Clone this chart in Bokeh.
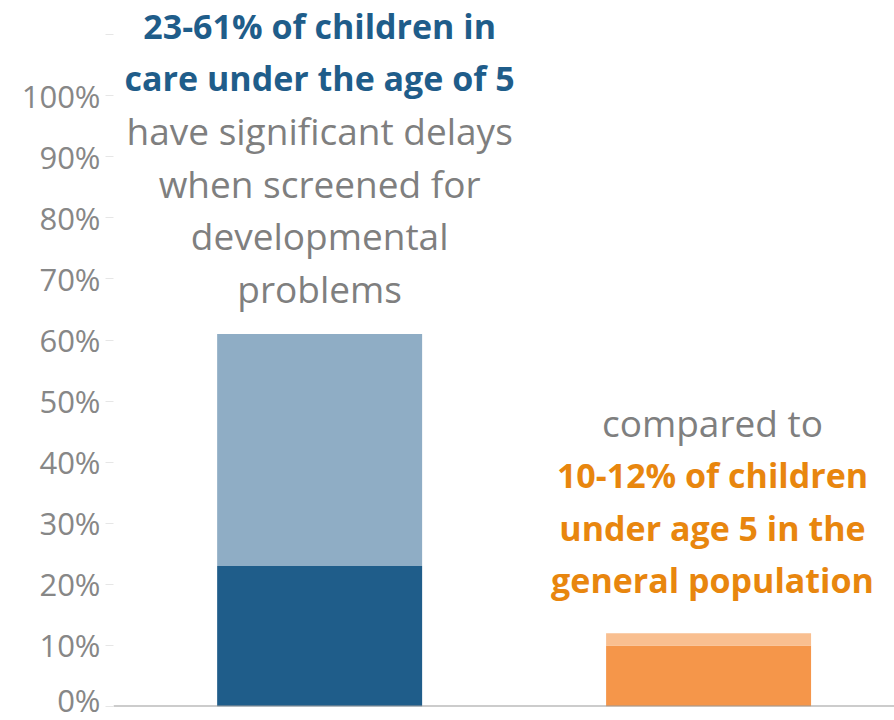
from bokeh.plotting import figure
from bokeh.models import Range1d, FixedTicker, Span, Label
from bokeh.embed import file_html
from bokeh.resources import INLINE

# ---- data ----
categories = ["Children in care under 5", "Children under 5 in general population"]
range_low = [23, 10]      # lower bound of range (%)
range_high = [61, 12]     # upper bound of range (%)
tick_values = [0, 10, 20, 30, 40, 50, 60, 70, 80, 90, 100, 110]
tick_labels = ["0%", "10%", "20%", "30%", "40%", "50%", "60%", "70%", "80%", "90%", "100%", ""]

care_lines_bold = ["23-61% of children in", "care under the age of 5"]
care_lines_plain = ["have significant delays", "when screened for", "developmental", "problems"]
gen_lines_plain = ["compared to"]
gen_lines_bold = ["10-12% of children", "under age 5 in the", "general population"]

# ---- styles ----
FONT = "Open Sans"
DARK_BLUE = "#1f5d8a"
LIGHT_BLUE = "#8fadc5"
ORANGE = "#f5964a"
LIGHT_ORANGE = "#f9bf90"
ORANGE_TEXT = "#e8860e"
GREY_TEXT = "#7f7f7f"

xs = list(range(len(categories)))

p = figure(width=894, height=720, output_backend="svg", toolbar_location=None,
           x_range=Range1d(-0.53, 1.478), y_range=Range1d(0, 115.6),
           min_border_left=113, min_border_right=0, min_border_top=0, min_border_bottom=14)

p.outline_line_color = None
p.xgrid.visible = False
p.ygrid.visible = False
p.xaxis.visible = False

yax = p.yaxis[0]
yax.ticker = FixedTicker(ticks=tick_values)
yax.major_label_overrides = {v: l for v, l in zip(tick_values, tick_labels)}
yax.axis_line_color = None
yax.minor_tick_line_color = None
yax.major_tick_line_color = "#e6e6e6"
yax.major_tick_out = 8
yax.major_tick_in = 0
yax.major_label_standoff = 5
yax.major_label_text_font = FONT
yax.major_label_text_font_size = "31px"
yax.major_label_text_color = "#878787"

bar_w = 0.527
# lower part of each range (solid) and upper part (light)
p.vbar(x=[xs[0]], bottom=[0], top=[range_low[0]], width=bar_w, fill_color=DARK_BLUE, line_color=None)
p.vbar(x=[xs[0]], bottom=[range_low[0]], top=[range_high[0]], width=bar_w, fill_color=LIGHT_BLUE, line_color=None)
p.vbar(x=[xs[1]], bottom=[0], top=[range_low[1]], width=bar_w, fill_color=ORANGE, line_color=None)
p.vbar(x=[xs[1]], bottom=[range_low[1]], top=[range_high[1]], width=bar_w, fill_color=LIGHT_ORANGE, line_color=None)

p.add_layout(Span(location=0, dimension="width", line_color="#9a9a9a", line_width=2))

# annotation text, positioned in pixel rows converted to % units
PX_PER_PCT = 706 / 115.6
def row(ypx):
    return (706 - ypx) / PX_PER_PCT

def add_lines(x, lines, y0, color, bold, size):
    for i, t in enumerate(lines):
        p.add_layout(Label(x=x, y=row(y0 + i * 52.5), text=t, text_align="center",
                           text_baseline="middle", text_font=FONT, text_font_size=size,
                           text_font_style="bold" if bold else "normal", text_color=color))

add_lines(xs[0], care_lines_bold, 25, DARK_BLUE, True, "34px")
add_lines(xs[0], care_lines_plain, 25 + 2 * 52.5, GREY_TEXT, False, "37px")
add_lines(xs[1] + 0.01, gen_lines_plain, 422, GREY_TEXT, False, "37px")
add_lines(xs[1] + 0.01, gen_lines_bold, 422 + 52.5, ORANGE_TEXT, True, "34px")

open("out.html", "w").write(file_html(p, INLINE))
